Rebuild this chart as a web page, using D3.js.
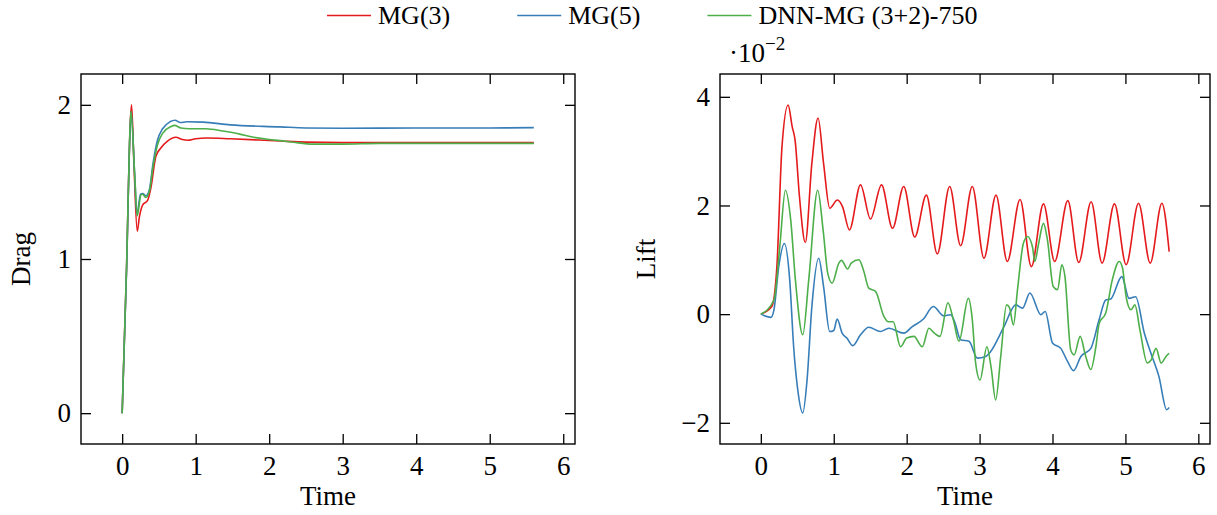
<!DOCTYPE html>
<html>
<head>
<meta charset="utf-8">
<script src="https://cdn.jsdelivr.net/npm/d3@7"></script>
<style>
  body { margin: 0; background: #fff; }
  svg { display: block; font-family: "Liberation Serif", "Times New Roman", serif; }
</style>
</head>
<body>
<svg id="chart"></svg>
<script>
// ---- data ----
const seriesNames = ["MG(3)", "MG(5)", "DNN-MG (3+2)-750"];
const seriesColors = ["#e41a1c", "#377eb8", "#4daf4a"];

const xTicks = [0, 1, 2, 3, 4, 5, 6];
const dragTicks = [0, 1, 2];
const liftTicks = [-2, 0, 2, 4];

// Drag
const dragMG3T = [0, 0.06, 0.11, 0.128, 0.16, 0.205, 0.233, 0.278, 0.346, 0.39, 0.458, 0.526, 0.617, 0.73, 0.82, 0.89, 1.0, 1.15, 1.47, 2.15, 2.5, 3, 4, 5, 5.6];
const dragMG3 = [0, 0.95, 1.88, 2.0, 1.62, 1.18, 1.27, 1.35, 1.38, 1.46, 1.665, 1.72, 1.765, 1.79, 1.775, 1.77, 1.78, 1.785, 1.78, 1.765, 1.758, 1.755, 1.755, 1.755, 1.755];

const dragMG5T = [0, 0.06, 0.105, 0.122, 0.17, 0.2, 0.25, 0.28, 0.32, 0.37, 0.42, 0.48, 0.55, 0.65, 0.72, 0.79, 0.88, 1.1, 1.47, 2.15, 2.5, 3, 4, 5, 5.6];
const dragMG5 = [0, 0.93, 1.8, 1.95, 1.55, 1.29, 1.42, 1.425, 1.41, 1.45, 1.62, 1.77, 1.845, 1.89, 1.9, 1.885, 1.89, 1.888, 1.87, 1.857, 1.85, 1.848, 1.85, 1.85, 1.852];

const dragDNNT = [0, 0.06, 0.1, 0.119, 0.173, 0.205, 0.255, 0.278, 0.32, 0.37, 0.42, 0.48, 0.55, 0.667, 0.71, 0.8, 0.91, 1.14, 1.37, 1.6, 1.74, 2.0, 2.15, 2.33, 2.6, 3.0, 3.5, 4, 5, 5.6];
const dragDNN = [0, 0.95, 1.75, 1.96, 1.52, 1.28, 1.415, 1.42, 1.40, 1.44, 1.6, 1.74, 1.815, 1.86, 1.867, 1.85, 1.845, 1.845, 1.83, 1.81, 1.794, 1.775, 1.768, 1.757, 1.745, 1.745, 1.75, 1.75, 1.75, 1.75];

// Lift (x 1e-2)
const liftMG3T = [0, 0.15, 0.22, 0.29, 0.374, 0.43, 0.47, 0.53, 0.61, 0.70, 0.785, 0.86, 0.945, 1.05, 1.12, 1.215, 1.367, 1.504, 1.655, 1.806, 1.96, 2.11, 2.27, 2.42, 2.59, 2.74, 2.90, 3.06, 3.225, 3.38, 3.555, 3.71, 3.876, 4.03, 4.21, 4.36, 4.53, 4.68, 4.85, 5.01, 5.18, 5.34, 5.50, 5.60];
const liftMG3 = [0, 0.14, 0.87, 3.08, 3.85, 3.45, 3.2, 2.16, 1.32, 2.78, 3.61, 2.78, 1.95, 2.10, 1.98, 1.55, 2.38, 1.75, 2.38, 1.58, 2.35, 1.42, 2.19, 1.11, 2.35, 1.26, 2.35, 1.03, 2.19, 0.97, 2.11, 0.875, 2.03, 0.97, 2.09, 0.95, 2.07, 0.94, 2.03, 0.91, 2.04, 0.94, 2.04, 1.15];

const liftMG5T = [0, 0.137, 0.18, 0.245, 0.323, 0.396, 0.45, 0.506, 0.575, 0.634, 0.70, 0.794, 0.86, 0.945, 1.0, 1.047, 1.115, 1.18, 1.261, 1.367, 1.48, 1.64, 1.755, 1.96, 2.077, 2.23, 2.365, 2.51, 2.603, 2.66, 2.74, 2.855, 2.97, 3.084, 3.15, 3.335, 3.496, 3.59, 3.69, 3.84, 3.9, 4.0, 4.114, 4.206, 4.288, 4.389, 4.526, 4.64, 4.73, 4.8, 4.95, 5.05, 5.14, 5.26, 5.35, 5.46, 5.566, 5.60];
const liftMG5 = [0, -0.06, 0.08, 0.87, 1.30, 0.63, -0.6, -1.39, -1.82, -1.21, 0.14, 1.03, 0.51, -0.32, -0.3, -0.09, -0.35, -0.44, -0.58, -0.38, -0.24, -0.32, -0.26, -0.35, -0.23, -0.09, 0.14, -0.03, -0.01, -0.15, -0.47, -0.50, -0.81, -0.78, -0.69, -0.23, 0.17, 0.11, 0.39, -0.01, 0.05, -0.53, -0.63, -0.87, -1.04, -0.78, -0.63, -0.1, 0.26, 0.28, 0.69, 0.29, 0.32, -0.35, -0.72, -1.15, -1.76, -1.72];

const liftDNNT = [0, 0.18, 0.26, 0.337, 0.41, 0.474, 0.575, 0.657, 0.78, 0.854, 0.918, 0.978, 1.07, 1.106, 1.19, 1.24, 1.345, 1.41, 1.48, 1.573, 1.687, 1.75, 1.815, 1.916, 2.0, 2.1, 2.214, 2.305, 2.38, 2.456, 2.566, 2.64, 2.717, 2.846, 2.90, 2.946, 3.006, 3.1, 3.16, 3.22, 3.29, 3.37, 3.41, 3.464, 3.52, 3.60, 3.657, 3.725, 3.757, 3.81, 3.876, 3.93, 4.01, 4.07, 4.128, 4.17, 4.25, 4.297, 4.38, 4.45, 4.526, 4.595, 4.64, 4.73, 4.82, 4.915, 4.96, 5.01, 5.075, 5.13, 5.2, 5.30, 5.35, 5.42, 5.49, 5.556, 5.60];
const liftDNN = [0, 0.26, 1.24, 2.28, 1.73, 0.63, -0.38, 0.63, 2.28, 1.55, 0.75, 0.57, 0.94, 0.99, 0.83, 0.94, 1.0, 0.8, 0.48, 0.42, -0.04, -0.14, -0.14, -0.6, -0.44, -0.41, -0.6, -0.26, -0.35, -0.41, 0.21, -0.1, -0.5, 0.29, -0.1, -0.9, -1.21, -0.6, -1.0, -1.58, -0.78, 0.17, 0.12, -0.2, 0.45, 1.3, 1.43, 1.24, 0.97, 1.3, 1.67, 1.37, 0.51, 0.45, 0.91, 0.7, -0.66, -0.75, -0.41, -0.75, -1.02, -0.6, -0.17, 0.02, 0.63, 0.97, 0.85, 0.32, 0.08, 0.17, -0.3, -0.9, -0.85, -0.63, -0.9, -0.78, -0.72];

// ---- layout ----
const W = 1217, H = 515;
const fontSize = 27;
const legendFont = 26;
const plotTop = 74, plotBottom = 444;

const svg = d3.select("#chart").attr("width", W).attr("height", H);

function zip(t, v) { return t.map((d, i) => ({t: d, v: v[i]})); }

function drawPanel(cfg) {
  const x = d3.scaleLinear().domain([-0.56, 6.16]).range([cfg.left, cfg.right]);
  const y = d3.scaleLinear().domain(cfg.yDomain).range([plotBottom, plotTop]);
  const g = svg.append("g");

  // lines
  const line = d3.line().x(d => x(d.t)).y(d => y(d.v)).curve(d3.curveMonotoneX);
  cfg.series.forEach((s, i) => {
    g.append("path")
      .datum(s)
      .attr("fill", "none")
      .attr("stroke", seriesColors[i])
      .attr("stroke-width", 1.6)
      .attr("stroke-linejoin", "round")
      .attr("d", line);
  });

  // axes, ticks pointing inward on all four sides
  const bottom = g.append("g").attr("transform", `translate(0,${plotBottom})`)
    .call(d3.axisBottom(x).tickValues(xTicks).tickSizeInner(-10).tickSizeOuter(0).tickPadding(12).tickFormat(d3.format("d")));
  const top = g.append("g").attr("transform", `translate(0,${plotTop})`)
    .call(d3.axisTop(x).tickValues(xTicks).tickSizeInner(-10).tickSizeOuter(0).tickFormat(""));
  const left = g.append("g").attr("transform", `translate(${cfg.left},0)`)
    .call(d3.axisLeft(y).tickValues(cfg.yTicks).tickSizeInner(-10).tickSizeOuter(0).tickPadding(10).tickFormat(d3.format("d")));
  const right = g.append("g").attr("transform", `translate(${cfg.right},0)`)
    .call(d3.axisRight(y).tickValues(cfg.yTicks).tickSizeInner(-10).tickSizeOuter(0).tickFormat(""));

  [bottom, top, left, right].forEach(a => {
    a.select(".domain").remove();
    a.attr("font-family", null).attr("font-size", fontSize);
    a.selectAll("line").attr("stroke", "#000").attr("stroke-width", 1.3);
    a.selectAll("text").attr("fill", "#000");
  });

  // frame
  g.append("rect")
    .attr("x", cfg.left).attr("y", plotTop)
    .attr("width", cfg.right - cfg.left).attr("height", plotBottom - plotTop)
    .attr("fill", "none").attr("stroke", "#000").attr("stroke-width", 1.4);

  // axis titles
  g.append("text")
    .attr("x", (cfg.left + cfg.right) / 2).attr("y", 505)
    .attr("text-anchor", "middle").attr("font-size", fontSize)
    .text("Time");
  g.append("text")
    .attr("transform", `translate(${cfg.yLabelX},${(plotTop + plotBottom) / 2}) rotate(-90)`)
    .attr("text-anchor", "middle").attr("font-size", fontSize)
    .text(cfg.yLabel);
  return {x, y};
}

drawPanel({
  left: 81, right: 575,
  yDomain: [-0.2, 2.2], yTicks: dragTicks, yLabel: "Drag", yLabelX: 30,
  series: [zip(dragMG3T, dragMG3), zip(dragMG5T, dragMG5), zip(dragDNNT, dragDNN)]
});

drawPanel({
  left: 720, right: 1210,
  yDomain: [-2.39, 4.42], yTicks: liftTicks, yLabel: "Lift", yLabelX: 655,
  series: [zip(liftMG3T, liftMG3), zip(liftMG5T, liftMG5), zip(liftDNNT, liftDNN)]
});

// scale factor label for lift
const sf = svg.append("text").attr("x", 729).attr("y", 62).attr("font-size", fontSize);
sf.append("tspan").text("·10");
sf.append("tspan").attr("dy", -12).attr("font-size", 19).text("−2");

// legend
let lx = 327;
seriesNames.forEach((name, i) => {
  svg.append("line")
    .attr("x1", lx).attr("x2", lx + 44)
    .attr("y1", 15.5).attr("y2", 15.5)
    .attr("stroke", seriesColors[i]).attr("stroke-width", 1.6);
  const t = svg.append("text")
    .attr("x", lx + 51).attr("y", 24)
    .attr("font-size", legendFont)
    .text(name);
  lx += 51 + t.node().getComputedTextLength() + 67;
});
</script>
</body>
</html>
